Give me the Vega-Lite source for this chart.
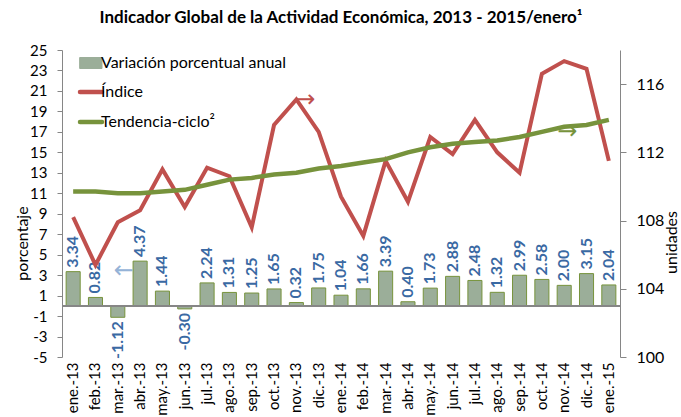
{
  "$schema": "https://vega.github.io/schema/vega-lite/v6.json",
  "autosize": "none",
  "width": 558,
  "height": 307,
  "padding": {"left": 62, "top": 50, "right": 61, "bottom": 60},
  "background": "white",
  "config": {"view": {"stroke": null}, "font": "Lato", "locale": {"number": {"decimal": ".", "thousands": ",", "grouping": [3], "currency": ["$", ""], "minus": "-"}}},
  "title": {"text": "Indicador Global de la Actividad Económica, 2013 - 2015/enero¹", "font": "Lato", "fontSize": 17, "fontWeight": "bold", "color": "#000000", "anchor": "middle", "frame": "group", "offset": 16},
  "data": {"values": [
    {"mes": "ene.-13", "var": 3.34, "indice": 108.2, "tend": 109.7},
    {"mes": "feb.-13", "var": 0.82, "indice": 105.4, "tend": 109.7},
    {"mes": "mar.-13", "var": -1.12, "indice": 107.9, "tend": 109.6},
    {"mes": "abr.-13", "var": 4.37, "indice": 108.6, "tend": 109.6},
    {"mes": "may.-13", "var": 1.44, "indice": 111.0, "tend": 109.7},
    {"mes": "jun.-13", "var": -0.30, "indice": 108.8, "tend": 109.8},
    {"mes": "jul.-13", "var": 2.24, "indice": 111.1, "tend": 110.1},
    {"mes": "ago.-13", "var": 1.31, "indice": 110.6, "tend": 110.4},
    {"mes": "sep.-13", "var": 1.25, "indice": 107.6, "tend": 110.5},
    {"mes": "oct.-13", "var": 1.65, "indice": 113.6, "tend": 110.7},
    {"mes": "nov.-13", "var": 0.32, "indice": 115.1, "tend": 110.8},
    {"mes": "dic.-13", "var": 1.75, "indice": 113.2, "tend": 111.05},
    {"mes": "ene.-14", "var": 1.04, "indice": 109.4, "tend": 111.2},
    {"mes": "feb.-14", "var": 1.66, "indice": 107.1, "tend": 111.4},
    {"mes": "mar.-14", "var": 3.39, "indice": 111.5, "tend": 111.6},
    {"mes": "abr.-14", "var": 0.40, "indice": 109.1, "tend": 112.0},
    {"mes": "may.-14", "var": 1.73, "indice": 112.9, "tend": 112.3},
    {"mes": "jun.-14", "var": 2.88, "indice": 111.9, "tend": 112.5},
    {"mes": "jul.-14", "var": 2.48, "indice": 113.9, "tend": 112.6},
    {"mes": "ago.-14", "var": 1.32, "indice": 112.0, "tend": 112.7},
    {"mes": "sep.-14", "var": 2.99, "indice": 110.8, "tend": 112.9},
    {"mes": "oct.-14", "var": 2.58, "indice": 116.6, "tend": 113.2},
    {"mes": "nov.-14", "var": 2.00, "indice": 117.35, "tend": 113.5},
    {"mes": "dic.-14", "var": 3.15, "indice": 116.9, "tend": 113.6},
    {"mes": "ene.-15", "var": 2.04, "indice": 111.5, "tend": 113.9}
  ]},
  "layer": [
    {
      "layer": [
        {
          "mark": {"type": "bar", "stroke": "#77933C", "strokeWidth": 1, "fillOpacity": 1},
          "encoding": {
            "x": {"field": "mes", "type": "nominal", "sort": null,
              "scale": {"domain": ["ene.-13","feb.-13","mar.-13","abr.-13","may.-13","jun.-13","jul.-13","ago.-13","sep.-13","oct.-13","nov.-13","dic.-13","ene.-14","feb.-14","mar.-14","abr.-14","may.-14","jun.-14","jul.-14","ago.-14","sep.-14","oct.-14","nov.-14","dic.-14","ene.-15"], "paddingInner": 0.37, "paddingOuter": 0.185},
              "axis": {"title": null, "orient": "bottom", "domain": false, "ticks": false, "labelAngle": 270, "labelAlign": "right", "labelBaseline": "middle", "labelPadding": 5, "labelFont": "Lato", "labelFontSize": 15, "labelColor": "#000000", "grid": false}},
            "y": {"field": "var", "type": "quantitative",
              "scale": {"domain": [-5, 25], "nice": false, "zero": false},
              "axis": {"title": "porcentaje", "values": [-5,-3,-1,1,3,5,7,9,11,13,15,17,19,21,23,25], "tickCount": 20, "labelOverlap": false, "grid": false, "domainColor": "#868686", "tickColor": "#868686", "tickSize": 5, "labelPadding": 10, "labelFont": "Lato", "labelFontSize": 15, "labelColor": "#000000", "titleFont": "Lato", "titleFontSize": 16, "titleFontWeight": "normal", "titleColor": "#000000", "titleAngle": 270, "titleBaseline": "middle", "titleAlign": "center", "titleX": -40, "titleY": 193}},
            "color": {"datum": "Variación porcentual anual", "type": "nominal",
              "scale": {"domain": ["Variación porcentual anual", "Índice", "Tendencia-ciclo²"], "range": ["#9BAE99", "#C0504D", "#77933C"]},
              "legend": {"orient": "none", "legendX": 21, "legendY": 5, "title": null, "labelFont": "Lato", "labelFontSize": 16, "labelColor": "#000000", "labelLimit": 0, "symbolSize": 484, "rowPadding": 12, "labelOffset": 2,
                "encode": {"symbols": {"update": {
                  "shape": {"signal": "datum.value === 'Variación porcentual anual' ? 'M-1,-0.5H1V0.5H-1Z' : 'stroke'"},
                  "fill": {"signal": "datum.value === 'Variación porcentual anual' ? '#9BAE99' : 'transparent'"},
                  "stroke": {"signal": "datum.value === 'Variación porcentual anual' ? '#77933C' : (datum.value === 'Índice' ? '#C0504D' : '#77933C')"},
                  "strokeWidth": {"signal": "datum.value === 'Variación porcentual anual' ? 1 : 4.5"},
                  "strokeCap": {"value": "round"},
                  "opacity": {"value": 1}
                }}}}}
          }
        },
        {
          "mark": {"type": "rule", "color": "#868686", "strokeWidth": 1},
          "encoding": {"y": {"datum": 0, "type": "quantitative"}}
        },
        {
          "transform": [{"filter": "datum['var'] >= 0"}],
          "mark": {"type": "text", "angle": 270, "align": "left", "baseline": "middle", "dx": 4, "font": "Lato", "fontSize": 16, "fontWeight": "bold", "color": "#3A69A3"},
          "encoding": {
            "x": {"field": "mes", "type": "nominal", "sort": null},
            "y": {"field": "var", "type": "quantitative"},
            "text": {"field": "var", "type": "quantitative", "format": ".2f"}
          }
        },
        {
          "transform": [{"filter": "datum['var'] < 0"}],
          "mark": {"type": "text", "angle": 270, "align": "right", "baseline": "middle", "dx": -4, "font": "Lato", "fontSize": 16, "fontWeight": "bold", "color": "#3A69A3"},
          "encoding": {
            "x": {"field": "mes", "type": "nominal", "sort": null},
            "y": {"field": "var", "type": "quantitative"},
            "text": {"field": "var", "type": "quantitative", "format": ".2f"}
          }
        },
        {
          "data": {"values": [{"mes": "mar.-13", "v": 3.4}]},
          "mark": {"type": "text", "text": "←", "align": "left", "baseline": "middle", "dx": -4, "font": "DejaVu Sans", "fontSize": 24, "color": "#95B3D7"},
          "encoding": {
            "x": {"field": "mes", "type": "nominal"},
            "y": {"field": "v", "type": "quantitative"}
          }
        }
      ]
    },
    {
      "layer": [
        {
          "mark": {"type": "line", "strokeWidth": 4, "strokeJoin": "miter"},
          "encoding": {
            "x": {"field": "mes", "type": "nominal", "sort": null},
            "y": {"field": "indice", "type": "quantitative",
              "scale": {"domain": [100, 118], "nice": false, "zero": false},
              "axis": {"orient": "right", "title": "unidades", "values": [100, 104, 108, 112, 116], "tickCount": 10, "grid": false, "domainColor": "#868686", "tickColor": "#868686", "tickSize": 6, "labelPadding": 10, "labelFont": "Lato", "labelFontSize": 16, "labelColor": "#000000", "titleFont": "Lato", "titleFontSize": 16, "titleFontWeight": "normal", "titleColor": "#000000", "titleAngle": 270, "titleBaseline": "middle", "titleAlign": "center", "titleX": 51, "titleY": 192}},
            "color": {"datum": "Índice", "type": "nominal",
              "legend": {"orient": "none", "legendX": 21, "legendY": 5, "title": null, "labelFont": "Lato", "labelFontSize": 16, "labelColor": "#000000", "labelLimit": 0, "symbolSize": 484, "rowPadding": 12, "labelOffset": 2,
                "encode": {"symbols": {"update": {
                  "shape": {"signal": "datum.value === 'Variación porcentual anual' ? 'M-1,-0.5H1V0.5H-1Z' : 'stroke'"},
                  "fill": {"signal": "datum.value === 'Variación porcentual anual' ? '#9BAE99' : 'transparent'"},
                  "stroke": {"signal": "datum.value === 'Variación porcentual anual' ? '#77933C' : (datum.value === 'Índice' ? '#C0504D' : '#77933C')"},
                  "strokeWidth": {"signal": "datum.value === 'Variación porcentual anual' ? 1 : 4.5"},
                  "strokeCap": {"value": "round"},
                  "opacity": {"value": 1}
                }}}}}
          }
        },
        {
          "mark": {"type": "line", "strokeWidth": 4.5},
          "encoding": {
            "x": {"field": "mes", "type": "nominal", "sort": null},
            "y": {"field": "tend", "type": "quantitative"},
            "color": {"datum": "Tendencia-ciclo²", "type": "nominal",
              "legend": {"orient": "none", "legendX": 21, "legendY": 5, "title": null, "labelFont": "Lato", "labelFontSize": 16, "labelColor": "#000000", "labelLimit": 0, "symbolSize": 484, "rowPadding": 12, "labelOffset": 2,
                "encode": {"symbols": {"update": {
                  "shape": {"signal": "datum.value === 'Variación porcentual anual' ? 'M-1,-0.5H1V0.5H-1Z' : 'stroke'"},
                  "fill": {"signal": "datum.value === 'Variación porcentual anual' ? '#9BAE99' : 'transparent'"},
                  "stroke": {"signal": "datum.value === 'Variación porcentual anual' ? '#77933C' : (datum.value === 'Índice' ? '#C0504D' : '#77933C')"},
                  "strokeWidth": {"signal": "datum.value === 'Variación porcentual anual' ? 1 : 4.5"},
                  "strokeCap": {"value": "round"},
                  "opacity": {"value": 1}
                }}}}}
          }
        },
        {
          "data": {"values": [{"mes": "nov.-13", "v": 115.06}]},
          "mark": {"type": "text", "text": "→", "align": "left", "baseline": "middle", "dx": -1, "font": "DejaVu Sans", "fontSize": 24, "color": "#C0504D"},
          "encoding": {
            "x": {"field": "mes", "type": "nominal"},
            "y": {"field": "v", "type": "quantitative"}
          }
        },
        {
          "data": {"values": [{"mes": "nov.-14", "v": 113.2}]},
          "mark": {"type": "text", "text": "→", "align": "left", "baseline": "middle", "dx": -7, "font": "DejaVu Sans", "fontSize": 24, "color": "#77933C"},
          "encoding": {
            "x": {"field": "mes", "type": "nominal"},
            "y": {"field": "v", "type": "quantitative"}
          }
        }
      ]
    }
  ],
  "resolve": {"scale": {"y": "independent"}}
}
